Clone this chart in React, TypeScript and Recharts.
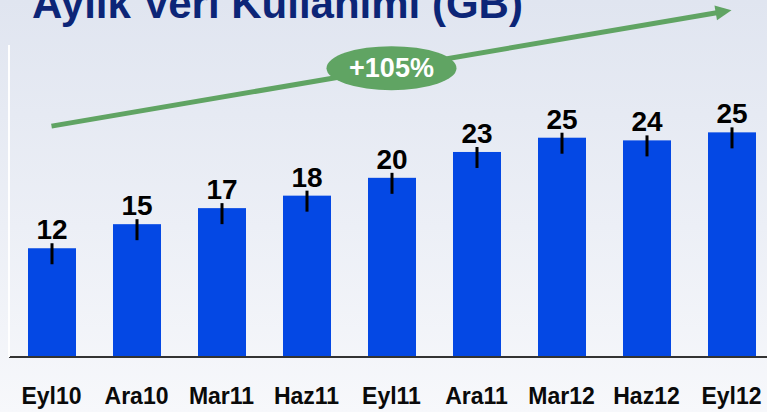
import { BarChart, Bar, XAxis, YAxis, LabelList, ReferenceLine, ReferenceDot } from "recharts";

const months = ["Eyl10", "Ara10", "Mar11", "Haz11", "Eyl11", "Ara11", "Mar12", "Haz12", "Eyl12"];
const usageGB = [12.2, 14.9, 16.7, 18.1, 20.1, 23.0, 24.6, 24.3, 25.2];

const title = "Aylık Veri Kullanımı (GB)";
const growthLabel = "+105%";
// trend arrow runs from first to last month, in GB units on the value axis
const arrowStartGB = 25.9;
const arrowEndGB = 38.9;
const growthBadgeGB = 32.4;
const growthBadgeAt = "Eyl11";

const data = months.map((m, i) => ({ month: m, gb: usageGB[i] }));

const FONT = "'Liberation Sans', Arial, Helvetica, sans-serif";
const BLUE = "#0448e4";
const GREEN = "#60a463";

function BarWithTick(props: any) {
  const { x, y, width, height } = props;
  const cx = x + width / 2;
  return (
    <g>
      <rect x={x} y={y} width={width} height={height} fill={BLUE} />
      <line x1={cx} x2={cx} y1={y - 5} y2={y + 16} stroke="#000" strokeWidth={3} />
    </g>
  );
}

function MonthTick(props: any) {
  const { x, y, payload } = props;
  return (
    <text x={x} y={y + 47} textAnchor="middle" fontFamily={FONT} fontWeight={700} fontSize={23} fill="#0a0a0a">
      {payload.value}
    </text>
  );
}

function TrendArrow(props: any) {
  const { x1, y1, x2, y2 } = props;
  const dx = x2 - x1;
  const dy = y2 - y1;
  const len = Math.sqrt(dx * dx + dy * dy);
  const ux = dx / len;
  const uy = dy / len;
  const headLen = 16;
  const headHalf = 7.5;
  const bx = x2 - ux * headLen;
  const by = y2 - uy * headLen;
  const pts = `${x2},${y2} ${bx - uy * headHalf},${by + ux * headHalf} ${bx + uy * headHalf},${by - ux * headHalf}`;
  return (
    <g>
      <line x1={x1} y1={y1} x2={bx + ux * 1} y2={by + uy * 1} stroke={GREEN} strokeWidth={5} />
      <polygon points={pts} fill={GREEN} />
    </g>
  );
}

function GrowthBadge(props: any) {
  const { cx, cy } = props;
  return (
    <g>
      <ellipse cx={cx} cy={cy} rx={65} ry={22} fill={GREEN} />
      <text x={cx} y={cy + 9} textAnchor="middle" fontFamily={FONT} fontWeight={700} fontSize={27} fill="#fff">
        {growthLabel}
      </text>
    </g>
  );
}

export default function App() {
  return (
    <div
      style={{
        position: "fixed",
        left: 0,
        top: 0,
        width: 767,
        height: 412,
        overflow: "hidden",
        background: "linear-gradient(to bottom, #e0e5f0 0%, #eceff6 55%, #f7f8fb 100%)",
      }}
    >
      <svg width={767} height={412} style={{ position: "absolute", left: 0, top: 0 }}>
        <text x={32} y={18} fontFamily={FONT} fontWeight={700} fontSize={42} fill="#0c2577">
          {title}
        </text>
      </svg>
      <div style={{ position: "absolute", left: 0, top: 0 }}>
        <BarChart width={780} height={412} data={data} margin={{ top: 45, right: 6, bottom: 15, left: 8 }}>
          <XAxis
            dataKey="month"
            height={40}
            tickLine={false}
            tickSize={0}
            tickMargin={0}
            interval={0}
            axisLine={{ stroke: "#333", strokeWidth: 2 }}
            tick={<MonthTick />}
          />
          <YAxis
            width={1}
            domain={[0, 35]}
            tick={false}
            tickLine={false}
            axisLine={{ stroke: "#ffffff", strokeWidth: 2 }}
          />
          <Bar dataKey="gb" barSize={48} shape={<BarWithTick />} isAnimationActive={false}>
            <LabelList
              dataKey="gb"
              position="top"
              offset={9}
              formatter={(v: any) => Math.round(Number(v))}
              fill="#000"
              fontSize={28}
              fontWeight={700}
              fontFamily={FONT}
            />
          </Bar>
          <ReferenceLine
            segment={[
              { x: months[0], y: arrowStartGB },
              { x: months[months.length - 1], y: arrowEndGB },
            ]}
            ifOverflow="visible"
            shape={(p: any) => <TrendArrow {...p} />}
          />
          <ReferenceDot
            x={growthBadgeAt}
            y={growthBadgeGB}
            ifOverflow="visible"
            shape={(p: any) => <GrowthBadge {...p} />}
          />
        </BarChart>
      </div>
    </div>
  );
}
